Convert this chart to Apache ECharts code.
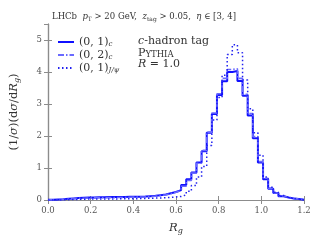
<!DOCTYPE html>
<html><head><meta charset="utf-8">
<script src="https://cdn.jsdelivr.net/npm/echarts@6/dist/echarts.min.js"></script>
<style>html,body{margin:0;padding:0;background:#fff}#c{width:320px;height:240px}</style>
</head><body><div id="c"></div>
<script>
// bin edges: 50 bins of width 0.024 from 0 to 1.2
const binWidth = 0.024;
const nBins = 50;
const xTicks = ['0.0','0.2','0.4','0.6','0.8','1.0','1.2'];
const yTicks = ['0','1','2','3','4','5'];
// (0,1)_c  solid
const c01 = [0.005,0.015,0.025,0.04,0.05,0.06,0.07,0.075,0.08,0.085,
             0.085,0.09,0.09,0.09,0.095,0.10,0.10,0.105,0.11,0.12,
             0.13,0.15,0.17,0.21,0.25,0.31,0.47,0.65,0.86,1.17,
             1.52,2.1,2.69,3.28,3.71,4.0,4.03,3.72,3.26,2.64,
             1.93,1.17,0.65,0.35,0.22,0.12,0.08,0.05,0.03,0.01];
// (0,2)_c  dash-dot
const c02 = [0.003,0.01,0.02,0.03,0.04,0.05,0.055,0.06,0.065,0.07,
             0.07,0.075,0.075,0.08,0.08,0.085,0.09,0.095,0.10,0.11,
             0.12,0.14,0.16,0.20,0.24,0.30,0.43,0.61,0.84,1.15,
             1.55,2.12,2.72,3.32,3.8,4.08,4.1,3.8,3.3,2.7,
             1.98,1.2,0.68,0.37,0.22,0.13,0.08,0.05,0.03,0.01];
// (0,1)_J/psi  dotted
const j01 = [0.0,0.002,0.005,0.01,0.015,0.02,0.025,0.03,0.03,0.03,
             0.03,0.035,0.035,0.035,0.04,0.04,0.04,0.045,0.05,0.055,
             0.06,0.065,0.07,0.08,0.095,0.11,0.16,0.27,0.45,0.72,
             1.05,1.7,2.5,3.2,3.9,4.55,4.85,4.6,3.75,2.85,
             2.1,1.4,0.72,0.4,0.24,0.14,0.08,0.05,0.03,0.01];

function hist(vals){
  const pts = vals.map((v,i)=>[+(i*binWidth).toFixed(4), v]);
  pts.push([+(nBins*binWidth).toFixed(4), vals[vals.length-1]]);
  return pts;
}
const serif = 'DejaVu Serif';
const gray = '#8c8c8c';
const txt = '#333';
const chart = echarts.init(document.getElementById('c'), null, {renderer:'canvas'});
const axisCommon = {
  axisLine:{show:true,lineStyle:{color:gray,width:1.2}},
  axisTick:{show:true,inside:true,length:4,lineStyle:{color:gray,width:1}},
  splitLine:{show:false}
};
chart.setOption({
  animation:false,
  grid:{left:48,right:16,top:24,bottom:37},
  title:{
    text:'LHCb  {i|p}{s|T} > 20 GeV,  {i|z}{s|tag} > 0.05,  {i|η} ∈ [3, 4]',
    left:47, top:6,
    textStyle:{fontFamily:serif,fontSize:8.5,fontWeight:'normal',color:txt,
      rich:{i:{fontFamily:serif,fontStyle:'italic',fontSize:8.5,color:txt},
            s:{fontFamily:serif,fontSize:6,color:txt,padding:[5,0,0,0]}}}
  },
  legend:{
    orient:'vertical', left:57, top:36, itemWidth:16, itemHeight:6, itemGap:1, padding:0,
    itemStyle:{color:'transparent',borderWidth:0,opacity:0},
    data:['c01','c02','j01'],
    formatter:function(n){
      return {c01:'{b|(0, 1)}{s|c}',c02:'{b|(0, 2)}{s|c}',j01:'{b|(0, 1)}{s|J/ψ}'}[n];
    },
    textStyle:{fontFamily:serif,color:txt,lineHeight:11,
      rich:{b:{fontFamily:serif,fontSize:11,color:txt,lineHeight:11},
            s:{fontFamily:serif,fontStyle:'italic',fontSize:7,color:txt,lineHeight:11,padding:[5,0,0,0]}}}
  },
  graphic:[
    {type:'text',left:138,top:36,style:{rich:{i:{fontFamily:serif,fontStyle:'italic',fontSize:11,fill:txt},n:{fontFamily:serif,fontSize:11,fill:txt}},text:'{i|c}{n|-hadron tag}'}},
    {type:'text',left:138,top:48,style:{rich:{a:{fontFamily:serif,fontSize:11,fill:txt,lineHeight:12,verticalAlign:'bottom'},b:{fontFamily:serif,fontSize:8.5,fill:txt,lineHeight:12,verticalAlign:'bottom',padding:[2,0,0,0]}},text:'{a|P}{b|YTHIA}'}},
    {type:'text',left:138,top:59,style:{rich:{i:{fontFamily:serif,fontStyle:'italic',fontSize:11,fill:txt},n:{fontFamily:serif,fontSize:11,fill:txt}},text:'{i|R}{n| = 1.0}'}}
  ],
  xAxis:[
    Object.assign({type:'value',min:0,max:1.2,interval:0.2,position:'bottom',
      name:'{i|R}{s|g}',nameLocation:'middle',nameGap:21,
      nameTextStyle:{rich:{i:{fontFamily:serif,fontStyle:'italic',fontSize:11.5,color:txt},s:{fontFamily:serif,fontStyle:'italic',fontSize:8,color:txt,padding:[6,0,0,0]}}},
      axisLabel:{fontFamily:serif,fontSize:8.5,color:'#555',margin:6,formatter:v=>xTicks[Math.round(v/0.2)]}},axisCommon),
    Object.assign({type:'value',min:0,max:1.2,interval:0.2,position:'top',axisLabel:{show:false}},axisCommon)
  ],
  yAxis:[
    Object.assign({type:'value',min:0,max:5.5,interval:1,position:'left',
      name:'(1/{i|σ})(d{i|σ}/d{i|R}{s|g})',nameLocation:'middle',nameGap:27,
      nameTextStyle:{fontFamily:serif,fontSize:11.5,color:txt,
        rich:{i:{fontFamily:serif,fontStyle:'italic',fontSize:11.5,color:txt},s:{fontFamily:serif,fontStyle:'italic',fontSize:8,color:txt,padding:[5,0,0,0]}}},
      axisLabel:{fontFamily:serif,fontSize:8.5,color:'#555',margin:6,showMaxLabel:false,
        formatter:v=>{const k=Math.round(v);return Math.abs(v-k)<1e-6?yTicks[k]:'';}}},axisCommon),
    Object.assign({type:'value',min:0,max:5.5,interval:1,position:'right',axisLabel:{show:false}},axisCommon)
  ],
  series:[
    {name:'c01',type:'line',step:'end',data:hist(c01),symbol:'none',
     lineStyle:{color:'#1010ff',width:2},itemStyle:{color:'#1010ff'}},
    {name:'c02',type:'line',step:'end',data:hist(c02),symbol:'none',
     lineStyle:{color:'#6a6aff',width:1.6,type:[6,2,1.5,2]},itemStyle:{color:'#6a6aff'}},
    {name:'j01',type:'line',step:'end',data:hist(j01),symbol:'none',
     lineStyle:{color:'#2020f0',width:1.5,type:[1.5,2.5]},itemStyle:{color:'#2020f0'}}
  ]
});
</script></body></html>
